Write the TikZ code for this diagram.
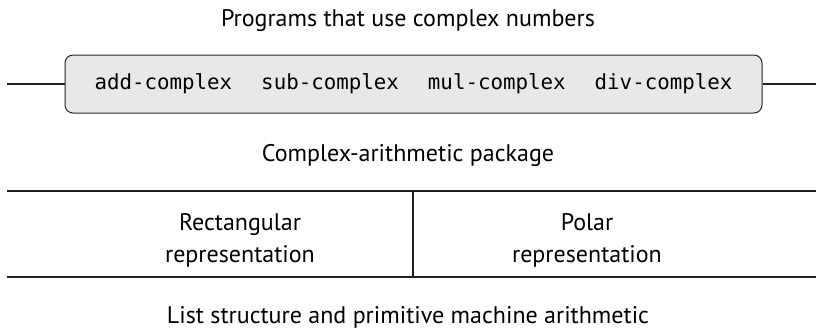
\documentclass[tikz,border=0pt]{standalone}
\usepackage{fontspec}
\setmainfont{PT Sans}
\setmonofont{DejaVu Sans Mono}
\begin{document}
\begin{tikzpicture}[x=0.5pt,y=-0.5pt,
  lbl/.style={font=\fontsize{12}{16}\selectfont, inner sep=0pt, anchor=base},
  cell/.style={font=\fontsize{12}{16}\selectfont, inner sep=0pt, align=center, anchor=center},
  rule/.style={draw=black!88, line width=0.65pt}]
\useasboundingbox (0,0) rectangle (816,329);
\node[lbl] (title) at (408,26) {Programs that use complex numbers};
\node[draw=black!85, fill=black!9, rounded corners=4pt, minimum width=348.5pt,
      minimum height=29pt, inner sep=0pt, line width=0.5pt,
      font=\ttfamily\fontsize{10.4}{12}\selectfont] (ops) at (413.5,84)
  {add-complex\hspace{14.5pt}sub-complex\hspace{14.5pt}mul-complex\hspace{14.5pt}div-complex};
\coordinate (lL) at (7,84);
\coordinate (lR) at (816,84);
\draw[rule] (lL) -- (ops.west);
\draw[rule] (ops.east) -- (lR);
\node[lbl] (pkg) at (408,161) {Complex-arithmetic package};
\coordinate (tl) at (7,191);
\coordinate (tr) at (816,191);
\coordinate (bl) at (7,277);
\coordinate (br) at (816,277);
\coordinate (dt) at (413,191);
\coordinate (db) at (413,277);
\draw[rule] (tl) -- (tr);
\draw[rule] (bl) -- (br);
\draw[rule] (dt) -- (db);
\node[cell] (rect) at (240,240.5) {Rectangular\\representation};
\node[cell] (polar) at (587,240.5) {Polar\\representation};
\node[lbl] (base) at (408,323) {List structure and primitive machine arithmetic};
\end{tikzpicture}
\end{document}
